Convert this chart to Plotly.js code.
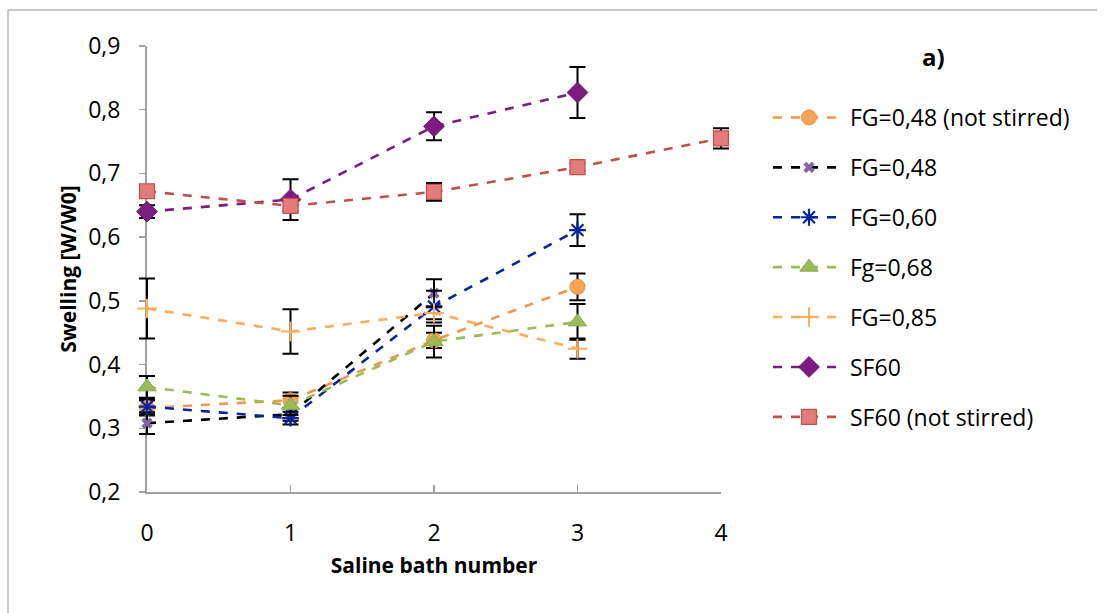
<!DOCTYPE html>
<html>
<head>
<meta charset="utf-8">
<script src="https://cdn.plot.ly/plotly-3.0.1.min.js"></script>
<style>html,body{margin:0;padding:0;background:#fff;}#chart{width:1105px;height:613px;}</style>
</head>
<body>
<div id="chart"></div>
<script>
// Data
const bathNumber = [0, 1, 2, 3, 4];
const seriesNames = ["FG=0,48 (not stirred)", "FG=0,48", "FG=0,60", "Fg=0,68", "FG=0,85", "SF60", "SF60 (not stirred)"];
const fg48NotStirred = [0.332, 0.344, 0.438, 0.522];
const fg48NotStirredErr = [0.012, 0.012, 0.012, 0.021];
const fg48 = [0.308, 0.322, 0.512];
const fg48Err = [0.017, 0.010, 0.022];
const fg60 = [0.334, 0.316, 0.491, 0.611];
const fg60Err = [0.012, 0.010, 0.025, 0.025];
const fg68 = [0.365, 0.336, 0.436, 0.467];
const fg68Err = [0.017, 0.015, 0.025, 0.028];
const fg85 = [0.488, 0.452, 0.481, 0.425];
const fg85Err = [0.047, 0.035, 0.010, 0.016];
const sf60 = [0.640, 0.659, 0.774, 0.827];
const sf60Err = [0.010, 0.032, 0.022, 0.040];
const sf60NotStirred = [0.672, 0.649, 0.671, 0.710, 0.755];
const sf60NotStirredErr = [0.010, 0.008, 0.014, 0.006, 0.016];
const yTicks = [0.2, 0.3, 0.4, 0.5, 0.6, 0.7, 0.8, 0.9];
const xTicks = [0, 1, 2, 3, 4];

const values = [fg48NotStirred, fg48, fg60, fg68, fg85, sf60, sf60NotStirred];
const errors = [fg48NotStirredErr, fg48Err, fg60Err, fg68Err, fg85Err, sf60Err, sf60NotStirredErr];
const lineColors = ["#f0974a", "#000000", "#0a24a0", "#9bbb59", "#fbac5c", "#7b1c7e", "#c0504d"];
const markers = [
  {symbol: "circle", size: 15, color: "#f7a35a", line: {color: "#e8913f", width: 1}},
  {symbol: "x", size: 10, color: "#8064a2", line: {color: "#8064a2", width: 0}},
  {symbol: "asterisk-open", size: 14, color: "#0a24a0", line: {color: "#0a24a0", width: 2.2}},
  {symbol: "triangle-up", size: 16, color: "#9bbb59", line: {color: "#8aa84c", width: 1}},
  {symbol: "cross-thin-open", size: 14, color: "#fbac5c", line: {color: "#fbac5c", width: 2}},
  {symbol: "diamond", size: 16, color: "#7b1c7e", line: {color: "#6a176d", width: 1}},
  {symbol: "square", size: 15, color: "#e27b79", line: {color: "#c0504d", width: 1.2}}
];

// visible axes box (px) and an outer box used for drawing so edge error bars are not clipped
const pl = 147, pr = 721, pt = 46, pb = 492, pad = 30;
const L = pl - pad, R = pr + pad, T = pt - pad, B = pb + pad;
const px = v => (v - L) / (R - L);
const py = v => (B - v) / (B - T);
const xUnit = (pr - pl) / 4, yUnit = (pb - pt) / 0.7;

const traces = [{
  type: "scatter", mode: "none", x: [], y: [],
  xaxis: "x", yaxis: "y", showlegend: false, hoverinfo: "skip"
}].concat(values.map((v, i) => ({
  type: "scatter",
  mode: "lines+markers",
  name: seriesNames[i],
  legendgroup: "g" + i,
  xaxis: "x2", yaxis: "y2",
  x: bathNumber.slice(0, v.length),
  y: v,
  line: {color: lineColors[i], width: 2.6, dash: "dash"},
  marker: markers[i],
  error_y: {type: "data", array: errors[i], visible: true, color: "#000000", thickness: 2, width: 8},
  cliponaxis: false
})));

const layout = {
  width: 1105,
  height: 613,
  separators: ", ",
  paper_bgcolor: "#ffffff",
  plot_bgcolor: "rgba(0,0,0,0)",
  margin: {l: L, r: 1105 - R, t: T, b: 613 - B, pad: 0},
  font: {family: "Open Sans, Lato, sans-serif", color: "#000000", size: 21},
  showlegend: true,
  legend: {
    x: px(768), y: py(96), xanchor: "left", yanchor: "top",
    font: {size: 23, family: "Open Sans, sans-serif"},
    itemwidth: 72,
    tracegroupgap: 17,
    bgcolor: "rgba(0,0,0,0)"
  },
  xaxis: {
    domain: [px(pl), px(pr)],
    anchor: "y",
    range: [0, 4],
    tickvals: xTicks,
    ticktext: xTicks.map(String),
    ticks: "inside",
    ticklen: 7,
    tickwidth: 1.5,
    tickcolor: "#a0a0a0",
    showline: true,
    linecolor: "#a0a0a0",
    linewidth: 2,
    showgrid: false,
    zeroline: false,
    ticklabelstandoff: 19,
    tickfont: {size: 23},
    title: {text: "<b>Saline bath number</b>", font: {size: 21}, standoff: 12}
  },
  yaxis: {
    domain: [py(pb), py(pt)],
    anchor: "x",
    range: [0.2, 0.9],
    tickvals: yTicks,
    tickformat: ".1f",
    ticks: "outside",
    ticklen: 6,
    tickwidth: 1.5,
    tickcolor: "#a0a0a0",
    showline: true,
    linecolor: "#a0a0a0",
    linewidth: 2,
    showgrid: false,
    zeroline: false,
    ticklabelstandoff: 14,
    tickfont: {size: 23},
    title: {text: "<b>Swelling [W/W0]</b>", font: {size: 21}, standoff: 6}
  },
  xaxis2: {
    domain: [0, 1], anchor: "y2",
    range: [0 - pad / xUnit, 4 + pad / xUnit],
    visible: false, showgrid: false, zeroline: false
  },
  yaxis2: {
    domain: [0, 1], anchor: "x2",
    range: [0.2 - pad / yUnit, 0.9 + pad / yUnit],
    visible: false, showgrid: false, zeroline: false
  },
  annotations: [{
    xref: "paper", yref: "paper", x: px(933), y: py(57),
    xanchor: "center", yanchor: "middle", showarrow: false,
    text: "<b>a)</b>", font: {size: 24}
  }],
  shapes: [
    {type: "line", xref: "paper", yref: "paper", x0: px(8), x1: px(8), y0: py(10), y1: py(613), line: {color: "#b5b5b5", width: 1.5}},
    {type: "line", xref: "paper", yref: "paper", x0: px(8), x1: px(1097), y0: py(10), y1: py(10), line: {color: "#b5b5b5", width: 1.5}}
  ]
};

Plotly.newPlot("chart", traces, layout, {displayModeBar: false, staticPlot: true});
</script>
</body>
</html>
